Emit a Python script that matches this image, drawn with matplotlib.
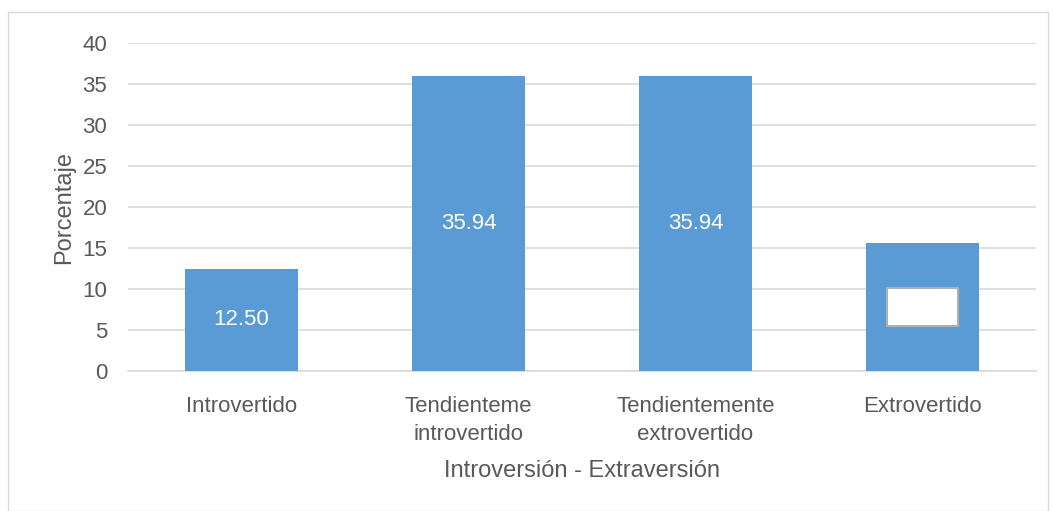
import matplotlib.pyplot as plt
import matplotlib.patches as mpatches

categorias = ['Introvertido', 'Tendienteme\nintrovertido', 'Tendientemente\nextrovertido', 'Extrovertido']
valores = [12.50, 35.94, 35.94, 15.63]
etiquetas = ['12.50', '35.94', '35.94', '']

plt.rcParams['font.family'] = ['Liberation Sans Narrow', 'Liberation Sans', 'DejaVu Sans']
txt = '#595959'
grid = '#d9d9d9'

fig = plt.figure(figsize=(10.54, 5.11), dpi=100)
ax = fig.add_axes([128/1054, 1-371/511, 908/1054, 328/511])

x = range(len(categorias))
bars = ax.bar(x, valores, width=0.5, color='#5b9bd5', zorder=3)
ax.set_xlim(-0.5, 3.5)
ax.set_ylim(0, 40)
ax.set_yticks(range(0, 41, 5))
ax.yaxis.grid(True, color=grid, linewidth=1.2, zorder=0)
for s in ['top', 'right', 'left']:
    ax.spines[s].set_visible(False)
ax.spines['bottom'].set_color(grid)
ax.spines['bottom'].set_linewidth(1.2)
ax.tick_params(axis='both', length=0, colors=txt, labelsize=16)
ax.tick_params(axis='y', pad=15)
ax.tick_params(axis='x', pad=18)
ax.set_xticks(list(x))
ax.set_xticklabels(categorias, linespacing=1.45)

for i, (v, lab) in enumerate(zip(valores, etiquetas)):
    if lab:
        ax.text(i, v / 2, lab, ha='center', va='center', color='white', fontsize=16, zorder=4)
    else:
        # empty white label box
        ax.add_patch(mpatches.Rectangle((i - 0.155, v / 2 - 2.3), 0.31, 4.6,
                                        facecolor='white', edgecolor='#b0b0b0', linewidth=1.5, zorder=4))

ax.set_ylabel('Porcentaje', color=txt, fontsize=17, labelpad=5)
ax.set_xlabel('Introversión - Extraversión', color=txt, fontsize=17, labelpad=11)

# chart frame
fig.add_artist(mpatches.Rectangle((8/1054, 0), 1040/1054, 1-12/511, transform=fig.transFigure,
                                  fill=False, edgecolor='#d9d9d9', linewidth=1))

plt.savefig('out.png', dpi=100)
